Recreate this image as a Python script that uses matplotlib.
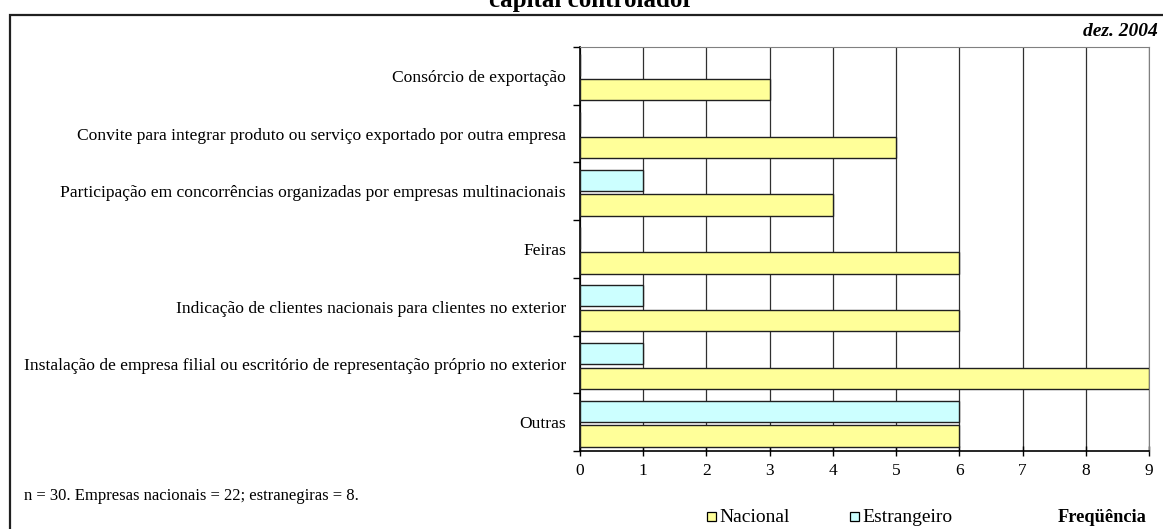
import numpy as np
from matplotlib import pyplot as plt
from matplotlib.patches import Rectangle

plt.rcParams.update({
    "font.family": ["Liberation Serif", "DejaVu Serif"],
    "figure.facecolor": "white",
    "axes.facecolor": "white",
    "savefig.facecolor": "white",
})

categories = [
    "Consórcio de exportação",
    "Convite para integrar produto ou serviço exportado por outra empresa",
    "Participação em concorrências organizadas por empresas multinacionais",
    "Feiras",
    "Indicação de clientes nacionais para clientes no exterior",
    "Instalação de empresa filial ou escritório de representação próprio no exterior",
    "Outras",
]
nacional = [3, 5, 4, 6, 6, 9, 6]
estrangeiro = [0, 0, 1, 0, 1, 1, 6]
series_names = ["Nacional", "Estrangeiro"]
xticks = list(range(0, 10))

W, H = 1163, 529
fig = plt.figure(figsize=(W / 100, H / 100), dpi=100)

# outer frame (cut at right/bottom like the original)
fig.patches.append(Rectangle((10 / W, -0.01), 1.02, 1 - 15 / H + 0.01,
                             transform=fig.transFigure, fill=False,
                             edgecolor="#202020", linewidth=1.6))

ax = fig.add_axes([580 / W, 1 - 451 / H, (1149 - 580) / W, (451 - 47) / H])

y = np.arange(len(categories))
h = 0.37
ax.barh(y - 0.19, estrangeiro, height=h, color="#CCFFFF", edgecolor="#202020",
        linewidth=1.0, zorder=3)
ax.barh(y + 0.24, nacional, height=h, color="#FFFF99", edgecolor="#202020",
        linewidth=1.0, zorder=3)

ax.set_xlim(0, 9)
ax.set_ylim(len(categories) - 0.5, -0.5)
ax.set_xticks(xticks)
ax.set_xticklabels([str(v) for v in xticks], fontsize=12.5)
ax.tick_params(axis="x", direction="inout", length=7, width=1, pad=5)
ax.xaxis.grid(True, color="#303030", linewidth=0.9, zorder=0)

ax.set_yticks(np.arange(-0.5, len(categories) + 0.5, 1.0))
ax.set_yticklabels([])
ax.set_yticks(y, minor=True)
ax.set_yticklabels(categories, minor=True, fontsize=12.6)
ax.tick_params(axis="y", which="major", direction="out", length=5, width=1)
ax.tick_params(axis="y", which="minor", length=0, pad=10)

for s in ["top", "right"]:
    ax.spines[s].set_color("#808080")
for s in ["left", "bottom"]:
    ax.spines[s].set_color("black")
    ax.spines[s].set_linewidth(1.2)

# texts
fig.text(591 / W, 1 - 7 / H, "capital controlador", ha="center", va="baseline",
         fontsize=18, fontweight="bold")
fig.text(1158 / W, 1 - 31 / H, "dez. 2004", ha="right", va="center",
         fontsize=14, fontweight="bold", fontstyle="italic")
fig.text(24 / W, 1 - 496 / H, "n = 30. Empresas nacionais = 22; estranegiras = 8.",
         ha="left", va="center", fontsize=12)
fig.text(1147 / W, 1 - 517 / H, "Freqüência", ha="right", va="center",
         fontsize=13.2, fontweight="bold")

# legend
leg_colors = ["#FFFF99", "#CCFFFF"]
leg_x = [707, 850]
for name, c, lx in zip(series_names, leg_colors, leg_x):
    fig.patches.append(Rectangle((lx / W, 1 - 521 / H), 9 / W, 9 / H,
                                 transform=fig.transFigure, facecolor=c,
                                 edgecolor="black", linewidth=0.9))
    fig.text((lx + 12) / W, 1 - 518 / H, name, ha="left", va="center", fontsize=14)

fig.savefig("out.png", dpi=100)
